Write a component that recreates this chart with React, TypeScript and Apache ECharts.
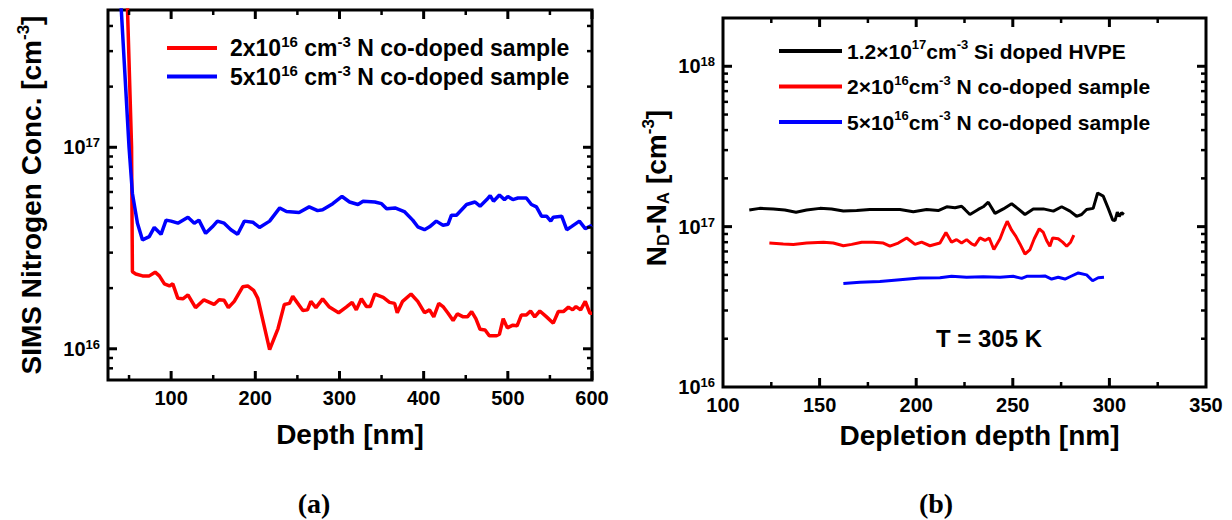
import React, { useEffect, useRef } from 'react';
import * as echarts from 'echarts';

// ---------- Panel (a): SIMS depth profiles [depth nm, concentration cm^-3] ----------
const redA: [number, number][] = [
  [47.5, 6.0e17], [53, 1.0e17], [54, 2.41e16], [58, 2.35e16], [66, 2.3e16], [74, 2.3e16], [81, 2.4e16], [86, 2.3e16],
  [92, 2.1e16], [98, 2.05e16], [102, 2.1e16], [108, 1.78e16], [114, 1.77e16], [120, 1.85e16], [129, 1.6e16],
  [139, 1.75e16], [151, 1.66e16], [157, 1.75e16], [163, 1.74e16], [168, 1.6e16], [175, 1.72e16], [185, 2.03e16],
  [191, 2.05e16], [198, 1.95e16], [203, 1.78e16], [217, 0.99e16], [227, 1.26e16], [234.5, 1.66e16], [240.5, 1.68e16],
  [244.5, 1.82e16], [256.5, 1.55e16], [262, 1.56e16], [266, 1.72e16], [272, 1.6e16], [280, 1.77e16], [288, 1.61e16],
  [299, 1.51e16], [308, 1.61e16], [315, 1.7e16], [320, 1.56e16], [326, 1.77e16], [332, 1.62e16], [336.5, 1.62e16],
  [342, 1.87e16], [352, 1.8e16], [359.5, 1.7e16], [365.5, 1.68e16], [368.6, 1.51e16], [375, 1.72e16], [385, 1.87e16],
  [393, 1.72e16], [401, 1.51e16], [407, 1.56e16], [412, 1.44e16], [418, 1.68e16], [423, 1.62e16], [429, 1.5e16],
  [435, 1.38e16], [440, 1.49e16], [447, 1.44e16], [452, 1.44e16], [457, 1.53e16], [462, 1.41e16], [467, 1.25e16],
  [473, 1.24e16], [478, 1.16e16], [486.5, 1.16e16], [490, 1.18e16], [494.5, 1.41e16], [499.4, 1.27e16], [506, 1.31e16],
  [511, 1.3e16], [516, 1.47e16], [522, 1.47e16], [527, 1.54e16], [532, 1.44e16], [538, 1.54e16], [546, 1.44e16],
  [554, 1.34e16], [560, 1.53e16], [566, 1.53e16], [572, 1.61e16], [577, 1.56e16], [581, 1.62e16], [586.5, 1.56e16],
  [592, 1.72e16], [597.6, 1.5e16], [600, 1.5e16],
];

const blueA: [number, number][] = [
  [40, 5.5e17], [50, 1.0e17], [54, 5.9e16], [60, 4.2e16], [66, 3.47e16], [74, 3.6e16], [80, 4.0e16], [88, 3.7e16],
  [94, 4.35e16], [100, 4.3e16], [108, 4.2e16], [120, 4.5e16], [127.5, 4.2e16], [133, 4.35e16], [141, 3.74e16],
  [149, 4.03e16], [155, 4.3e16], [163, 4.2e16], [171, 3.9e16], [179, 3.7e16], [187, 4.3e16], [197, 4.25e16],
  [205, 4.0e16], [217, 4.3e16], [229, 5.0e16], [237, 4.8e16], [252, 4.75e16], [264, 5.06e16], [274, 4.85e16],
  [280, 4.9e16], [292, 5.25e16], [303, 5.7e16], [312, 5.35e16], [322, 5.2e16], [328, 5.4e16], [342, 5.35e16],
  [350, 5.25e16], [356, 4.95e16], [366, 5.0e16], [377, 4.8e16], [387, 4.35e16], [393, 4.03e16], [401, 3.9e16],
  [407, 4.03e16], [415, 4.3e16], [423, 4.1e16], [429, 4.15e16], [433, 4.6e16], [439, 4.6e16], [451, 5.2e16],
  [461, 5.35e16], [467, 5.1e16], [475, 5.5e16], [479, 5.75e16], [483, 5.4e16], [490, 5.8e16], [496, 5.5e16],
  [500, 5.7e16], [506, 5.5e16], [512, 5.6e16], [522, 5.6e16], [528, 5.2e16], [534, 5.06e16], [540, 4.55e16],
  [546, 4.55e16], [551, 4.3e16], [554, 4.5e16], [564, 4.55e16], [570, 3.9e16], [576, 4.05e16], [585, 4.3e16],
  [592, 3.95e16], [600, 4.1e16],
];

// ---------- Panel (b): C-V profiles [depletion depth nm, ND-NA cm^-3] ----------
const blackB: [number, number][] = [
  [113.6, 1.27e17], [119, 1.3e17], [126, 1.29e17], [132, 1.27e17], [137.8, 1.23e17], [143.3, 1.27e17], [150.2, 1.3e17],
  [156.2, 1.29e17], [162.3, 1.25e17], [169.2, 1.26e17], [176, 1.28e17], [183, 1.28e17], [191.6, 1.28e17],
  [198.5, 1.24e17], [205.4, 1.28e17], [211.4, 1.26e17], [215.8, 1.33e17], [220.1, 1.31e17], [223.5, 1.34e17],
  [225.2, 1.28e17], [227.8, 1.19e17], [232.1, 1.28e17], [234.7, 1.33e17], [237.3, 1.42e17], [240.8, 1.21e17],
  [245.1, 1.29e17], [249.4, 1.39e17], [252.8, 1.29e17], [256.3, 1.19e17], [260.6, 1.29e17], [265.8, 1.29e17],
  [271, 1.25e17], [275.3, 1.33e17], [279.6, 1.25e17], [283, 1.16e17], [285.6, 1.19e17], [288.2, 1.28e17],
  [291.6, 1.3e17], [293.9, 1.62e17], [296.8, 1.55e17], [299.4, 1.3e17], [301.7, 1.1e17], [302.9, 1.09e17],
  [304.1, 1.23e17], [305.1, 1.16e17], [306.3, 1.22e17], [307.5, 1.19e17],
];

const redB: [number, number][] = [
  [124, 7.9e16], [131.2, 7.8e16], [136.4, 7.75e16], [143.3, 7.9e16], [152, 8.0e16], [157.1, 7.9e16], [162.3, 7.6e16],
  [166.6, 7.75e16], [171.8, 8.0e16], [177.8, 8.0e16], [183, 7.9e16], [186.4, 7.55e16], [190.7, 7.9e16],
  [195.1, 8.5e16], [199.4, 7.75e16], [202.8, 8.0e16], [207.1, 7.6e16], [212.3, 7.9e16], [215.4, 9.2e16],
  [218.3, 8.0e16], [220.9, 8.3e16], [223.5, 7.9e16], [226.1, 8.3e16], [228.7, 7.8e16], [230.4, 7.65e16],
  [233, 8.5e16], [235.6, 8.2e16], [237.8, 8.5e16], [240.2, 7.2e16], [243.4, 8.4e16], [245.1, 9.5e16],
  [247.1, 10.8e16], [249.4, 9.5e16], [251.6, 8.7e16], [253.7, 7.8e16], [256.3, 6.75e16], [258.9, 7.2e16],
  [261.1, 8.4e16], [263.7, 9.7e16], [265.8, 9.2e16], [267.5, 8.2e16], [269.2, 7.55e16], [270.6, 8.5e16],
  [273.5, 8.4e16], [275.8, 8.0e16], [277.9, 7.55e16], [279.9, 8.0e16], [281.6, 8.85e16],
];

const blueB: [number, number][] = [
  [162.3, 4.42e16], [170.9, 4.5e16], [181.2, 4.55e16], [191.6, 4.67e16], [201.9, 4.78e16], [212.3, 4.8e16],
  [218.3, 4.9e16], [226.1, 4.83e16], [234.7, 4.87e16], [243.4, 4.83e16], [250.2, 4.9e16], [254.6, 4.76e16],
  [257.2, 4.9e16], [264, 4.9e16], [266.6, 4.93e16], [270.1, 4.71e16], [273.5, 4.83e16], [277, 4.71e16],
  [279.6, 4.87e16], [283.9, 5.14e16], [288.2, 5.0e16], [291.3, 4.6e16], [294.2, 4.8e16], [297.2, 4.83e16],
];

// ---------- Axis ranges ----------
const xRangeA: [number, number] = [25, 600];
const yRangeA: [number, number] = [7e15, 4.8e17];
const xRangeB: [number, number] = [100, 350];
const yRangeB: [number, number] = [1e16, 2e18];

// ---------- Tick positions ----------
const xMajorA = [100, 200, 300, 400, 500, 600];
const xMinorA = [50, 150, 250, 350, 450, 550];
const yMajorA = [1e16, 1e17];
const yMinorA = [8e15, 9e15, 2e16, 3e16, 4e16, 5e16, 6e16, 7e16, 8e16, 9e16, 2e17, 3e17, 4e17];
const xMajorB = [150, 200, 250, 300];
const xMinorB = [125, 175, 225, 275, 325];
const yMajorB = [1e17, 1e18];
const yMinorB = [2e16, 3e16, 4e16, 5e16, 6e16, 7e16, 8e16, 9e16, 2e17, 3e17, 4e17, 5e17, 6e17, 7e17, 8e17, 9e17];

// ---------- Names ----------
const nameRedA = '2x10^16 cm^-3 N co-doped sample';
const nameBlueA = '5x10^16 cm^-3 N co-doped sample';
const nameBlackB = '1.2×10^17cm^-3 Si doped HVPE';
const nameRedB = '2×10^16cm^-3 N co-doped sample';
const nameBlueB = '5×10^16cm^-3 N co-doped sample';

const richNames: Record<string, string> = {
  [nameRedA]: '{a|2x10}{s|16}{a| cm}{s|-3}{a| N co-doped sample}',
  [nameBlueA]: '{a|5x10}{s|16}{a| cm}{s|-3}{a| N co-doped sample}',
  [nameBlackB]: '{a|1.2×10}{s|17}{a|cm}{s|-3}{a| Si doped HVPE}',
  [nameRedB]: '{a|2×10}{s|16}{a|cm}{s|-3}{a| N co-doped sample}',
  [nameBlueB]: '{a|5×10}{s|16}{a|cm}{s|-3}{a| N co-doped sample}',
};

const FONT = '"Liberation Sans", Arial, Helvetica, sans-serif';
const SERIF = '"Liberation Serif", "Times New Roman", serif';

const powLabel = (v: number) => {
  const e = Math.log10(v);
  const r = Math.round(e);
  if (Math.abs(e - r) > 1e-6) return '';
  return `{b|10}{s|${r}}`;
};

const yLabelRich = {
  b: { fontSize: 20, fontWeight: 'bold', fontFamily: FONT, color: '#000', lineHeight: 22 },
  s: { fontSize: 13, fontWeight: 'bold', fontFamily: FONT, color: '#000', lineHeight: 13, verticalAlign: 'top' },
};

const xLabel = (v: number) => (Math.abs(v % 50) < 1e-9 ? String(v) : '');

export default function App() {
  const ref = useRef<HTMLDivElement>(null);

  useEffect(() => {
    document.body.style.margin = '0';
    if (!ref.current) return;
    const chart = echarts.init(ref.current, undefined, { renderer: 'svg' });

    const axisCommonX = {
      type: 'value',
      splitLine: { show: false },
      axisTick: { show: false },
      axisLine: { show: false },
      nameLocation: 'middle',
      axisLabel: {
        color: '#000',
        fontSize: 20,
        fontWeight: 'bold',
        fontFamily: FONT,
        margin: 8,
        formatter: xLabel,
      },
    };
    const axisCommonY = {
      type: 'log',
      logBase: 10,
      splitLine: { show: false },
      axisTick: { show: false },
      axisLine: { show: false },
      minorTick: { show: false },
      axisLabel: { formatter: powLabel, rich: yLabelRich, margin: 8 },
    };

    const legendRichA = {
      a: { fontSize: 23, fontWeight: 'bold', fontFamily: FONT, color: '#000', lineHeight: 28 },
      s: { fontSize: 15, fontWeight: 'bold', fontFamily: FONT, color: '#000', lineHeight: 15, verticalAlign: 'top' },
    };
    const legendRichB = {
      a: { fontSize: 21, fontWeight: 'bold', fontFamily: FONT, color: '#000', lineHeight: 26 },
      s: { fontSize: 13, fontWeight: 'bold', fontFamily: FONT, color: '#000', lineHeight: 13, verticalAlign: 'top' },
    };

    const titleRich = {
      a: { fontSize: 28, fontWeight: 'bold', fontFamily: FONT, fill: '#000', lineHeight: 32 },
      s: { fontSize: 17, fontWeight: 'bold', fontFamily: FONT, fill: '#000', lineHeight: 17, verticalAlign: 'top' },
      d: { fontSize: 17, fontWeight: 'bold', fontFamily: FONT, fill: '#000', lineHeight: 17, verticalAlign: 'bottom' },
    };

    chart.setOption({
      animation: false,
      backgroundColor: '#fff',
      grid: [
        { left: 108, top: 10, width: 484, height: 370, show: true, borderColor: '#000', borderWidth: 3, backgroundColor: 'transparent' },
        { left: 723, top: 18, width: 483, height: 369, show: true, borderColor: '#000', borderWidth: 3, backgroundColor: 'transparent' },
      ],
      xAxis: [
        {
          ...axisCommonX,
          gridIndex: 0,
          min: xRangeA[0],
          max: xRangeA[1],
          name: 'Depth [nm]',
          nameGap: 40,
          nameTextStyle: { fontSize: 28, fontWeight: 'bold', fontFamily: FONT, color: '#000' },
        },
        {
          ...axisCommonX,
          gridIndex: 1,
          min: xRangeB[0],
          max: xRangeB[1],
          interval: 50,
          name: 'Depletion depth [nm]',
          nameGap: 34,
          nameTextStyle: { fontSize: 28, fontWeight: 'bold', fontFamily: FONT, color: '#000', padding: [0, 0, 0, 30] },
        },
      ],
      yAxis: [
        { ...axisCommonY, gridIndex: 0, min: yRangeA[0], max: yRangeA[1] },
        { ...axisCommonY, gridIndex: 1, min: yRangeB[0], max: yRangeB[1] },
      ],
      legend: [
        {
          data: [nameRedA, nameBlueA],
          orient: 'vertical',
          left: 162,
          top: 29,
          itemWidth: 50,
          itemHeight: 4,
          itemGap: 3,
          icon: 'rect',
          selectedMode: false,
          formatter: (n: string) => richNames[n] || n,
          textStyle: { rich: legendRichA, padding: [0, 0, 0, 8] },
        },
        {
          data: [nameBlackB, nameRedB, nameBlueB],
          orient: 'vertical',
          left: 774,
          top: 33,
          itemWidth: 63,
          itemHeight: 4,
          itemGap: 12,
          icon: 'rect',
          selectedMode: false,
          formatter: (n: string) => richNames[n] || n,
          textStyle: { rich: legendRichB },
        },
      ],
      series: [
        { name: nameRedA, type: 'line', xAxisIndex: 0, yAxisIndex: 0, data: redA, showSymbol: false, color: '#ff0000', lineStyle: { width: 3.5, color: '#ff0000' }, clip: true },
        { name: nameBlueA, type: 'line', xAxisIndex: 0, yAxisIndex: 0, data: blueA, showSymbol: false, color: '#0000ff', lineStyle: { width: 3.5, color: '#0000ff' }, clip: true },
        { name: nameBlackB, type: 'line', xAxisIndex: 1, yAxisIndex: 1, data: blackB, showSymbol: false, color: '#000000', lineStyle: { width: 3, color: '#000000' }, clip: true },
        { name: nameRedB, type: 'line', xAxisIndex: 1, yAxisIndex: 1, data: redB, showSymbol: false, color: '#ff0000', lineStyle: { width: 3, color: '#ff0000' }, clip: true },
        { name: nameBlueB, type: 'line', xAxisIndex: 1, yAxisIndex: 1, data: blueB, showSymbol: false, color: '#0000ff', lineStyle: { width: 3, color: '#0000ff' }, clip: true },
      ],
    });

    // Inward ticks on all four sides, positioned through the axes' own scales
    const tickLines = (
      gi: number, xMaj: number[], xMin: number[], yMaj: number[], yMin: number[],
      xr: [number, number], yr: [number, number],
    ) => {
      const f = { gridIndex: gi };
      const p0 = chart.convertToPixel(f, [xr[0], yr[0]]) as number[];
      const p1 = chart.convertToPixel(f, [xr[1], yr[1]]) as number[];
      const left = p0[0], bottom = p0[1], right = p1[0], top = p1[1];
      const els: any[] = [];
      const seg = (x1: number, y1: number, x2: number, y2: number, w: number) =>
        els.push({ type: 'line', silent: true, z: 10, shape: { x1, y1, x2, y2 }, style: { stroke: '#000', lineWidth: w } });
      const addX = (v: number, major: boolean) => {
        const x = (chart.convertToPixel(f, [v, yr[0]]) as number[])[0];
        const len = major ? 9 : 5;
        const w = major ? 3 : 2.5;
        seg(x, bottom, x, bottom - len, w);
        seg(x, top, x, top + len, w);
      };
      const addY = (v: number, major: boolean) => {
        const y = (chart.convertToPixel(f, [xr[0], v]) as number[])[1];
        const len = major ? 9 : 5;
        const w = major ? 3 : 2.5;
        seg(left, y, left + len, y, w);
        seg(right, y, right - len, y, w);
      };
      xMaj.forEach((v) => addX(v, true));
      xMin.forEach((v) => addX(v, false));
      yMaj.forEach((v) => addY(v, true));
      yMin.forEach((v) => addY(v, false));
      return els;
    };

    const ticks = [
      ...tickLines(0, xMajorA, xMinorA, yMajorA, yMinorA, xRangeA, yRangeA),
      ...tickLines(1, xMajorB, xMinorB, yMajorB, yMinorB, xRangeB, yRangeB),
    ];

    chart.setOption({
      graphic: [
        {
          type: 'text', x: 31, y: 195, rotation: Math.PI / 2,
          style: { text: '{a|SIMS Nitrogen Conc. [cm}{s|-3}{a|]}', rich: titleRich, align: 'center', verticalAlign: 'middle' },
        },
        {
          type: 'text', x: 656, y: 188, rotation: Math.PI / 2,
          style: { text: '{a|N}{d|D}{a|-N}{d|A}{a| [cm}{s|-3}{a|]}', rich: titleRich, align: 'center', verticalAlign: 'middle' },
        },
        {
          type: 'text', x: 989, y: 338,
          style: { text: 'T = 305 K', fontSize: 24, fontWeight: 'bold', fontFamily: FONT, fill: '#000', align: 'center', verticalAlign: 'middle' },
        },
        {
          type: 'text', x: 314, y: 503,
          style: { text: '(a)', fontSize: 28, fontWeight: 'bold', fontFamily: SERIF, fill: '#000', align: 'center', verticalAlign: 'middle' },
        },
        {
          type: 'text', x: 936, y: 503,
          style: { text: '(b)', fontSize: 28, fontWeight: 'bold', fontFamily: SERIF, fill: '#000', align: 'center', verticalAlign: 'middle' },
        },
        ...ticks,
      ],
    });

    return () => chart.dispose();
  }, []);

  return <div ref={ref} style={{ width: 1232, height: 520 }} />;
}
